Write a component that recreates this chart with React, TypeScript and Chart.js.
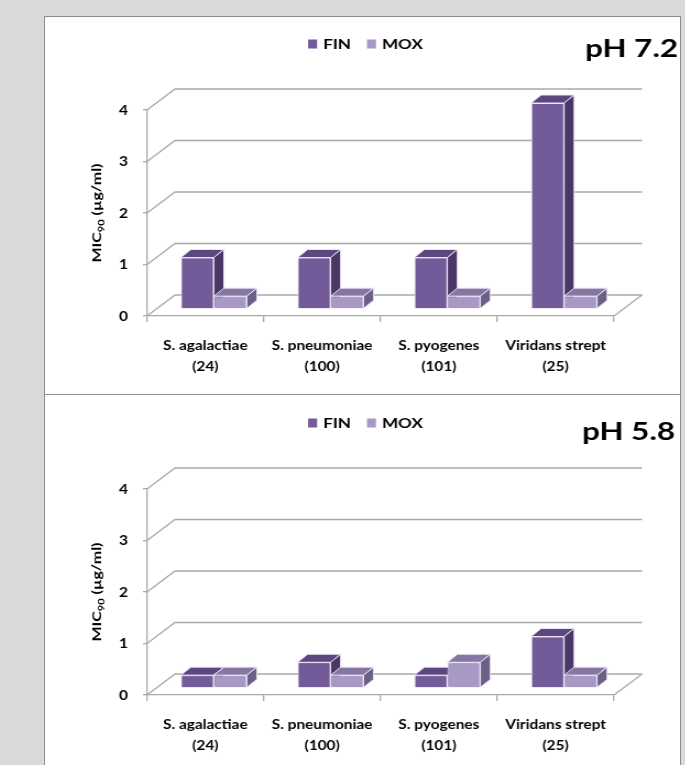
import React, { useEffect, useRef } from "react";
import { Chart, registerables } from "chart.js";

Chart.register(...registerables);

const categories: string[][] = [
  ["S. agalactiae", "(24)"],
  ["S. pneumoniae", "(100)"],
  ["S. pyogenes", "(101)"],
  ["Viridans strept", "(25)"],
];
const seriesNames = ["FIN", "MOX"];
const finPh72 = [1, 1, 1, 4];
const moxPh72 = [0.25, 0.25, 0.25, 0.25];
const finPh58 = [0.25, 0.5, 0.25, 1];
const moxPh58 = [0.25, 0.25, 0.5, 0.25];
const yTickValues = [0, 1, 2, 3, 4];
const panelLabels = ["pH 7.2", "pH 5.8"];
const yTitleParts = ["MIC", "90", " (µg/ml)"];

const FONT = "Lato, 'Open Sans', sans-serif";
const COLORS = [
  { front: "#735a98", top: "#5c4781", side: "#4a3765" },
  { front: "#a898c6", top: "#8676a4", side: "#6c5f88" },
];
const GRID = "#a9a9a9";
const EDGE = "rgba(236,232,246,0.95)";

// canvas is drawn at a narrower internal width and shown horizontally stretched
const CSS_W = 635;
const CW = 577;
const SX = CSS_W / CW;
const CH = 376;

const WALL_DX = 28 / SX;
const WALL_DY = 21;
const BAR_SHIFT_X = 8.5 / SX;
const BAR_SHIFT_Y = 7;
const BAR_DX = 10 / SX;
const BAR_DY = 8;
const AREA_LEFT = 102 / SX;
const AREA_RIGHT = 569 / SX;

function drawFaces(ctx: any, el: any, pal: any) {
  const { x, y, base, width } = el.getProps(["x", "y", "base", "width"], true);
  const l = x - width / 2;
  const r = x + width / 2;
  ctx.save();
  ctx.strokeStyle = EDGE;
  ctx.lineWidth = 1;
  ctx.lineJoin = "round";
  ctx.beginPath();
  ctx.moveTo(l, y);
  ctx.lineTo(l + BAR_DX, y - BAR_DY);
  ctx.lineTo(r + BAR_DX, y - BAR_DY);
  ctx.lineTo(r, y);
  ctx.closePath();
  ctx.fillStyle = pal.top;
  ctx.fill();
  ctx.stroke();
  ctx.beginPath();
  ctx.moveTo(r, y);
  ctx.lineTo(r + BAR_DX, y - BAR_DY);
  ctx.lineTo(r + BAR_DX, base - BAR_DY);
  ctx.lineTo(r, base);
  ctx.closePath();
  ctx.fillStyle = pal.side;
  ctx.fill();
  ctx.stroke();
  ctx.restore();
}

function stretchedText(ctx: any, text: string, x: number, y: number, sx: number) {
  ctx.save();
  ctx.translate(x, y);
  ctx.scale(sx, 1);
  ctx.fillText(text, 0, 0);
  ctx.restore();
}

function make3DPlugin(label: string, labelRight: number, labelBaseline: number, legendY: number) {
  return {
    id: "fake3d",
    beforeDatasetsDraw(chart: any) {
      const { ctx, chartArea: a, scales } = chart;
      const ys = scales.y;
      ctx.save();
      ctx.strokeStyle = GRID;
      ctx.lineWidth = 1.3;
      for (const v of yTickValues) {
        const y = ys.getPixelForValue(v);
        ctx.beginPath();
        ctx.moveTo(a.left, y);
        ctx.lineTo(a.left + WALL_DX, y - WALL_DY);
        ctx.lineTo(a.right + WALL_DX, y - WALL_DY);
        ctx.stroke();
      }
      ctx.beginPath();
      ctx.moveTo(a.right, a.bottom);
      ctx.lineTo(a.right + WALL_DX, a.bottom - WALL_DY);
      ctx.stroke();
      ctx.restore();
      ctx.save();
      ctx.translate(BAR_SHIFT_X, -BAR_SHIFT_Y);
    },
    afterDatasetsDraw(chart: any) {
      const ctx = chart.ctx;
      const metas = [chart.getDatasetMeta(0), chart.getDatasetMeta(1)];
      const n = metas[0].data.length;
      for (let i = 0; i < n; i++) {
        metas.forEach((m: any, k: number) => {
          const el = m.data[i];
          el.draw(ctx);
          drawFaces(ctx, el, COLORS[k]);
        });
      }
      ctx.restore();
    },
    afterDraw(chart: any) {
      const ctx = chart.ctx;
      ctx.save();
      // work in displayed (css) pixels horizontally
      ctx.scale(1 / SX, 1);
      // legend
      const legendStretch = 1.22;
      ctx.font = `bold 14px ${FONT}`;
      const box = 9;
      const gap = 6;
      const spacing = 16;
      const widths = seriesNames.map((nm) => ctx.measureText(nm).width * legendStretch);
      const total = widths.reduce((s, w) => s + box + gap + w, 0) + spacing * (seriesNames.length - 1);
      let lx = CSS_W / 2 - total / 2 + 3;
      ctx.textBaseline = "middle";
      ctx.textAlign = "left";
      seriesNames.forEach((nm, i) => {
        ctx.fillStyle = COLORS[i].front;
        ctx.fillRect(lx, legendY - box / 2, box, box);
        ctx.fillStyle = "#000";
        stretchedText(ctx, nm, lx + box + gap, legendY + 0.5, legendStretch);
        lx += box + gap + widths[i] + spacing;
      });
      // panel label
      ctx.font = `bold 24px ${FONT}`;
      ctx.textAlign = "left";
      ctx.textBaseline = "alphabetic";
      ctx.fillStyle = "#000";
      const lw = ctx.measureText(label).width;
      const labelStretch = 93 / lw;
      stretchedText(ctx, label, labelRight - 93, labelBaseline, labelStretch);
      // y axis title with subscript
      const a = chart.chartArea;
      const cy = (a.top + a.bottom) / 2;
      ctx.translate(52, cy);
      ctx.rotate(-Math.PI / 2);
      const big = `bold 13px ${FONT}`;
      const small = `bold 9px ${FONT}`;
      ctx.font = big;
      const w0 = ctx.measureText(yTitleParts[0]).width;
      const w2 = ctx.measureText(yTitleParts[2]).width;
      ctx.font = small;
      const w1 = ctx.measureText(yTitleParts[1]).width;
      const natural = w0 + w1 + w2;
      ctx.scale(99 / natural, 1);
      let tx = -natural / 2;
      ctx.textAlign = "left";
      ctx.font = big;
      ctx.fillText(yTitleParts[0], tx, 4.5);
      tx += w0;
      ctx.font = small;
      ctx.fillText(yTitleParts[1], tx, 7.5);
      tx += w1;
      ctx.font = big;
      ctx.fillText(yTitleParts[2], tx, 4.5);
      ctx.restore();
    },
  };
}

function BarPanel(props: {
  fin: number[];
  mox: number[];
  label: string;
  labelRight: number;
  labelBaseline: number;
  legendY: number;
  areaTop: number;
  areaBottom: number;
}) {
  const ref = useRef<HTMLCanvasElement | null>(null);
  useEffect(() => {
    if (!ref.current) return;
    const tickFont = { family: FONT, size: 14, weight: "bold" as const, lineHeight: 1.57 };
    const mkSet = (i: number, data: number[]) => ({
      label: seriesNames[i],
      data,
      backgroundColor: COLORS[i].front,
      borderColor: EDGE,
      borderWidth: 1,
      clip: false as any,
      categoryPercentage: 0.565,
      barPercentage: 1,
    });
    const chart = new Chart(ref.current, {
      type: "bar",
      data: {
        labels: categories,
        datasets: [mkSet(0, props.fin), mkSet(1, props.mox)],
      },
      options: {
        responsive: false,
        animation: false,
        devicePixelRatio: 1,
        layout: { padding: { top: props.areaTop, right: CW - AREA_RIGHT, left: 0, bottom: 0 } },
        plugins: {
          legend: { display: false },
          title: { display: false },
          tooltip: { enabled: false },
        },
        scales: {
          x: {
            type: "category",
            grid: { display: true, drawOnChartArea: false, drawTicks: true, tickLength: 6, color: GRID, lineWidth: 1.3, offset: true },
            border: { display: true, color: GRID, width: 1.3 },
            ticks: { font: tickFont, color: "#000", padding: 12, maxRotation: 0, autoSkip: false },
            afterFit: (s: any) => {
              s.height = CH - props.areaBottom;
            },
          },
          y: {
            min: 0,
            max: 4,
            grid: { drawOnChartArea: false, drawTicks: true, tickLength: 4 / SX, color: GRID, lineWidth: 1.3 },
            border: { display: true, color: GRID, width: 1.3 },
            ticks: { stepSize: 1, font: { family: FONT, size: 14, weight: "bold" }, color: "#000", padding: 15 / SX },
            afterBuildTicks: (s: any) => {
              s.ticks = yTickValues.map((v) => ({ value: v }));
            },
            afterFit: (s: any) => {
              s.width = AREA_LEFT;
            },
          },
        },
      },
      plugins: [make3DPlugin(props.label, props.labelRight, props.labelBaseline, props.legendY)],
    } as any);
    return () => chart.destroy();
  }, []);
  return <canvas ref={ref} width={CW} height={CH} style={{ display: "block", width: CSS_W, height: CH }} />;
}

export default function App() {
  useEffect(() => {
    document.body.style.margin = "0";
  }, []);
  const panel = (top: number, height: number): React.CSSProperties => ({
    position: "absolute",
    left: 44,
    top,
    width: 637,
    height,
    border: "1px solid #8c8c8c",
    boxSizing: "border-box",
    background: "#fff",
    overflow: "hidden",
  });
  return (
    <div style={{ position: "fixed", left: 0, top: 0, width: 685, height: 765, background: "#d9d9d9", overflow: "hidden" }}>
      <div style={panel(16, 379)}>
        <BarPanel
          fin={finPh72}
          mox={moxPh72}
          label={panelLabels[0]}
          labelRight={633}
          labelBaseline={40}
          legendY={27}
          areaTop={93}
          areaBottom={299}
        />
      </div>
      <div style={panel(394, 420)}>
        <BarPanel
          fin={finPh58}
          mox={moxPh58}
          label={panelLabels[1]}
          labelRight={630}
          labelBaseline={45}
          legendY={28}
          areaTop={94}
          areaBottom={300}
        />
      </div>
    </div>
  );
}
